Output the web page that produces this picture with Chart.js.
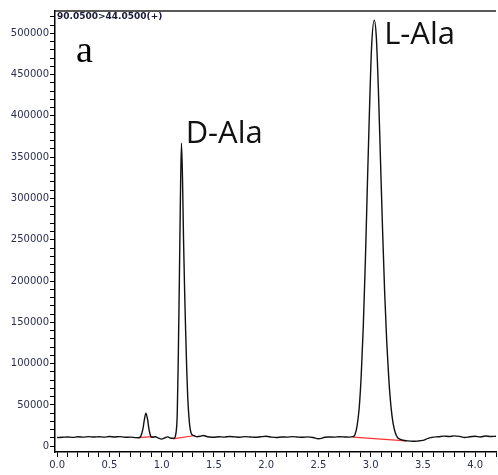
<!DOCTYPE html>
<html>
<head>
<meta charset="utf-8">
<script src="https://cdn.jsdelivr.net/npm/chart.js@4"></script>
<style>
  html, body { margin: 0; padding: 0; background: #fff; }
  #wrap { width: 498px; height: 475px; }
</style>
</head>
<body>
<div id="wrap"><canvas id="chromChart"></canvas></div>
<script>
// 크로마토그램 데이터 (min, counts)
const times = [
    0.00, 0.05, 0.10, 0.15, 0.20, 0.25, 0.30, 0.35, 0.40, 0.45,
    0.50, 0.55, 0.60, 0.65, 0.70, 0.75, 0.78, 0.80, 0.82, 0.835,
    0.85, 0.865, 0.88, 0.895, 0.91, 0.94, 0.97, 1.00, 1.03, 1.06,
    1.09, 1.12, 1.135, 1.15, 1.16, 1.17, 1.18, 1.19, 1.20, 1.21,
    1.22, 1.23, 1.24, 1.25, 1.26, 1.27, 1.28, 1.29, 1.31, 1.34,
    1.37, 1.40, 1.43, 1.46, 1.50, 1.55, 1.60, 1.65, 1.70, 1.75,
    1.80, 1.85, 1.90, 1.95, 2.00, 2.05, 2.10, 2.15, 2.20, 2.25,
    2.30, 2.35, 2.40, 2.45, 2.50, 2.53, 2.56, 2.60, 2.65, 2.70,
    2.75, 2.80, 2.83, 2.85, 2.87, 2.89, 2.91, 2.93, 2.95, 2.97,
    2.99, 3.01, 3.035, 3.055, 3.075, 3.095, 3.115, 3.135, 3.155, 3.175,
    3.195, 3.215, 3.235, 3.255, 3.28, 3.31, 3.35, 3.40, 3.45, 3.50,
    3.55, 3.60, 3.65, 3.70, 3.75, 3.80, 3.85, 3.90, 3.95, 4.00,
    4.05, 4.10, 4.15, 4.20
];
const signal = [
    10500, 10800, 11200, 10700, 11400, 11000, 11600, 11100, 11500, 11000,
    11700, 11200, 11600, 10900, 11000, 10400, 10200, 12000, 20000, 32000,
    40000, 33000, 20000, 12500, 10800, 11500, 9800, 8600, 10200, 11300,
    9600, 9800, 14000, 40000, 110000, 200000, 300000, 367000, 325000, 250000,
    190000, 140000, 95000, 60000, 38000, 24000, 17000, 14000, 12800, 11500,
    12000, 13000, 11800, 11200, 10800, 11500, 11000, 11800, 11300, 10900,
    11600, 11200, 10800, 11500, 12000, 11000, 10500, 11200, 11000, 11600,
    11100, 10800, 11300, 10600, 9000, 9500, 10800, 11200, 11000, 11500,
    11200, 11000, 11500, 14000, 24000, 45000, 85000, 145000, 225000, 320000,
    410000, 485000, 516000, 495000, 430000, 345000, 260000, 185000, 125000, 80000,
    48000, 28000, 17000, 11000, 8500, 7200, 6500, 6000, 6200, 7000,
    9500, 11000, 11500, 12200, 11800, 12500, 11900, 10500, 11500, 12000,
    11200, 12300, 11800, 12000
];

// 적분 베이스라인 (빨간 선)
const baseTimes = [[0.77, 0.92], [1.11, 1.32], [2.83, 3.34]];
const baseValues = [[10300, 11500], [9000, 13000], [11000, 6500]];

// 피크 이름
const peakNames = ['D-Ala', 'L-Ala'];
const peakLabelAt = [[1.23, 367000], [3.13, 487000]];

// 눈금: 0.1 분 / 10000 counts 간격, 라벨은 0.5 / 50000 마다
const xTicks = [];
for (let i = 0; i <= 42; i++) xTicks.push(i / 10);
const yTicks = [];
for (let i = 0; i <= 52; i++) yTicks.push(i * 10000);

const traceData = times.map((t, i) => ({ x: t, y: signal[i] }));
const baseSets = baseTimes.map((bt, i) => ({
    data: [{ x: bt[0], y: baseValues[i][0] }, { x: bt[1], y: baseValues[i][1] }],
    borderColor: '#ff3030',
    borderWidth: 1.2,
    pointRadius: 0,
    showLine: true
}));

const textPlugin = {
    id: 'textPlugin',
    afterDraw(chart) {
        const ctx = chart.ctx;
        const area = chart.chartArea;
        const xs = chart.scales.x;
        const ys = chart.scales.y;
        ctx.save();
        // 위 테두리
        ctx.strokeStyle = '#222';
        ctx.lineWidth = 1.5;
        ctx.beginPath();
        ctx.moveTo(area.left, area.top);
        ctx.lineTo(area.right, area.top);
        ctx.stroke();

        ctx.fillStyle = '#1a1a3a';
        ctx.font = 'bold 9px "DejaVu Sans"';
        ctx.textBaseline = 'top';
        ctx.textAlign = 'left';
        ctx.fillText('90.0500>44.0500(+)', area.left + 2, area.top + 1);

        ctx.textBaseline = 'alphabetic';
        ctx.fillStyle = '#000';
        ctx.font = '38px "Liberation Serif"';
        ctx.fillText('a', xs.getPixelForValue(0.18), ys.getPixelForValue(465000));

        ctx.fillStyle = '#111';
        ctx.font = '31px "Open Sans"';
        peakNames.forEach((name, i) => {
            ctx.fillText(name, xs.getPixelForValue(peakLabelAt[i][0]), ys.getPixelForValue(peakLabelAt[i][1]));
        });
        ctx.restore();
    }
};

const chromChart = new Chart(document.getElementById('chromChart').getContext('2d'), {
    type: 'scatter',
    data: {
        datasets: [{
            data: traceData,
            borderColor: '#111',
            borderWidth: 1.4,
            pointRadius: 0,
            showLine: true,
            cubicInterpolationMode: 'monotone'
        }].concat(baseSets)
    },
    options: {
        responsive: true,
        maintainAspectRatio: false,
        animation: false,
        layout: {
            padding: { top: 11, right: 0, left: 0, bottom: 0 }
        },
        plugins: {
            legend: { display: false },
            tooltip: { enabled: false }
        },
        scales: {
            x: {
                type: 'linear',
                min: -0.02,
                max: 4.2,
                afterBuildTicks: (scale) => { scale.ticks = xTicks.map(v => ({ value: v })); },
                afterFit: (scale) => { scale.height = 23; },
                border: { display: true, color: '#000', width: 1.5 },
                grid: {
                    drawOnChartArea: false,
                    drawTicks: true,
                    tickLength: 5,
                    tickColor: '#000',
                    tickWidth: 1
                },
                ticks: {
                    autoSkip: false,
                    maxRotation: 0,
                    padding: 2,
                    color: '#2a3050',
                    font: { family: '"DejaVu Sans"', size: 10 },
                    callback: (value) => {
                        const v = Math.round(value * 10);
                        return v % 5 === 0 ? (v / 10).toFixed(1) : '';
                    }
                }
            },
            y: {
                min: -7000,
                max: 527000,
                afterBuildTicks: (scale) => { scale.ticks = yTicks.map(v => ({ value: v })); },
                afterFit: (scale) => { scale.width = 55; },
                border: { display: true, color: '#000', width: 1.5 },
                grid: {
                    drawOnChartArea: false,
                    drawTicks: true,
                    tickLength: 5,
                    tickColor: '#000',
                    tickWidth: 1
                },
                ticks: {
                    autoSkip: false,
                    padding: 1,
                    color: '#2a3050',
                    font: { family: '"DejaVu Sans"', size: 10 },
                    callback: (value) => {
                        const v = Math.round(value);
                        return v % 50000 === 0 ? String(v) : '';
                    }
                }
            }
        }
    },
    plugins: [textPlugin]
});
</script>
</body>
</html>
